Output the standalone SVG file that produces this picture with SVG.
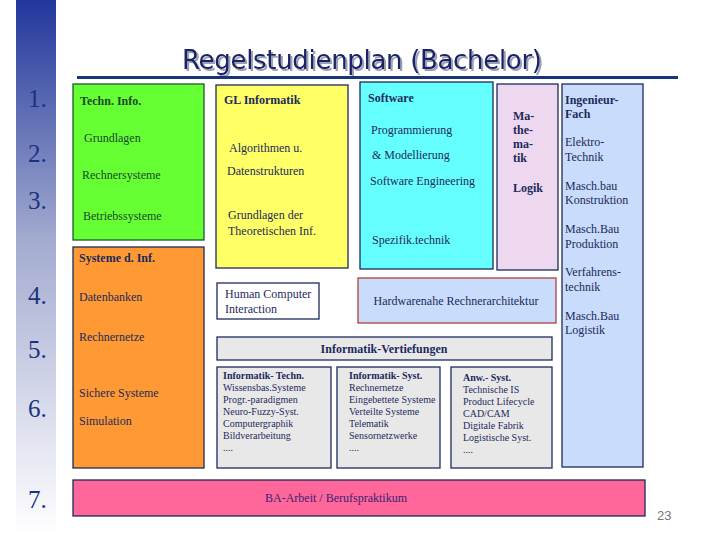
<svg xmlns="http://www.w3.org/2000/svg" width="720" height="540" viewBox="0 0 720 540">
<defs>
<linearGradient id="strip" x1="0" y1="0" x2="0" y2="1">
<stop offset="0" stop-color="#22379c"/>
<stop offset="0.45" stop-color="#a3abd0"/>
<stop offset="1" stop-color="#ffffff"/>
</linearGradient>
<filter id="shadow" x="-5%" y="-20%" width="110%" height="150%">
<feDropShadow dx="2" dy="2" stdDeviation="0.6" flood-color="#9aa0b8" flood-opacity="1"/>
</filter>
<style>
text{font-family:"Liberation Serif","Times New Roman",serif;font-size:12px;fill:#1c2a5c}
.b{font-weight:bold}
.num{font-size:25px;fill:#1a3380}
.g{fill:#1a4a2a}
.s{font-size:10px}
.box{stroke:#1c2a5c;stroke-width:1.3}
</style>
</defs>
<rect width="720" height="540" fill="#ffffff"/>
<rect x="16" y="0" width="40" height="534" fill="url(#strip)"/>
<g id="numbers">
<text class="num" x="28" y="107">1.</text>
<text class="num" x="28" y="162">2.</text>
<text class="num" x="28" y="209">3.</text>
<text class="num" x="28" y="304">4.</text>
<text class="num" x="28" y="358">5.</text>
<text class="num" x="28" y="417">6.</text>
<text class="num" x="28" y="508">7.</text>
</g>
<g id="title">
<text x="182" y="69" textLength="360" filter="url(#shadow)" style="font-family:'DejaVu Sans',sans-serif;font-size:26px;fill:#1a2466">Regelstudienplan (Bachelor)</text>
<rect x="77" y="76" width="601" height="3" fill="#1a3575"/>
</g>
<g id="techn">
<rect x="73" y="84" width="131" height="156" fill="#66ff33" stroke="#1a5a2a" stroke-width="1.3"/>
<text class="b g" x="80" y="105">Techn. Info.</text>
<text class="g" x="84" y="142">Grundlagen</text>
<text class="g" x="82" y="179">Rechnersysteme</text>
<text class="g" x="83" y="220">Betriebssysteme</text>
</g>
<g id="systeme">
<rect class="box" x="73" y="247" width="131" height="221" fill="#ff9933"/>
<text class="b" x="79" y="262">Systeme d. Inf.</text>
<text x="79" y="301">Datenbanken</text>
<text x="79" y="341">Rechnernetze</text>
<text x="79" y="397">Sichere Systeme</text>
<text x="79" y="425">Simulation</text>
</g>
<g id="gl">
<rect class="box" x="216" y="85" width="132" height="183" fill="#ffff66"/>
<text class="b" x="224" y="104">GL Informatik</text>
<text x="229" y="152">Algorithmen u.</text>
<text x="227" y="175">Datenstrukturen</text>
<text x="228" y="219">Grundlagen der</text>
<text x="228" y="235">Theoretischen Inf.</text>
</g>
<g id="software">
<rect class="box" x="360" y="82" width="133" height="187" fill="#66ffff"/>
<text class="b" x="368" y="102">Software</text>
<text x="371" y="134">Programmierung</text>
<text x="372" y="159">&amp; Modellierung</text>
<text x="370" y="185">Software Engineering</text>
<text x="372" y="244">Spezifik.technik</text>
</g>
<g id="mathe">
<rect class="box" x="497" y="84" width="61" height="186" fill="#eed8f0"/>
<text class="b" x="513" y="120">Ma-</text>
<text class="b" x="513" y="134">the-</text>
<text class="b" x="513" y="148">ma-</text>
<text class="b" x="513" y="162">tik</text>
<text class="b" x="513" y="192">Logik</text>
</g>
<g id="ingenieur">
<rect class="box" x="562" y="84" width="81" height="383" fill="#c9dcfb"/>
<text class="b" x="565" y="104">Ingenieur-</text>
<text class="b" x="565" y="118">Fach</text>
<text x="565" y="146">Elektro-</text>
<text x="565" y="161">Technik</text>
<text x="565" y="190">Masch.bau</text>
<text x="565" y="204">Konstruktion</text>
<text x="565" y="233">Masch.Bau</text>
<text x="565" y="248">Produktion</text>
<text x="565" y="276">Verfahrens-</text>
<text x="565" y="291">technik</text>
<text x="565" y="320">Masch.Bau</text>
<text x="565" y="334">Logistik</text>
</g>
<g id="hci">
<rect class="box" x="217" y="283" width="102" height="36" fill="#ffffff"/>
<text x="225" y="298">Human Computer</text>
<text x="225" y="313">Interaction</text>
</g>
<g id="hardware">
<rect x="358" y="278" width="198" height="45" fill="#c9dcfb" stroke="#b04040" stroke-width="1.3"/>
<text x="456" y="305" text-anchor="middle">Hardwarenahe Rechnerarchitektur</text>
</g>
<g id="vertiefungen">
<rect class="box" x="217" y="337" width="335" height="23" fill="#e8e8e8"/>
<text class="b" x="384" y="353" text-anchor="middle">Informatik-Vertiefungen</text>
</g>
<g id="vt-techn">
<rect class="box" x="217" y="367" width="114" height="101" fill="#e8e8e8"/>
<text class="b s" x="223" y="379">Informatik- Techn.</text>
<text class="s" x="223" y="391">Wissensbas.Systeme</text>
<text class="s" x="223" y="403">Progr.-paradigmen</text>
<text class="s" x="223" y="415">Neuro-Fuzzy-Syst.</text>
<text class="s" x="223" y="427">Computergraphik</text>
<text class="s" x="223" y="439">Bildverarbeitung</text>
<text class="s" x="223" y="451">....</text>
</g>
<g id="vt-syst">
<rect class="box" x="337" y="367" width="103" height="101" fill="#e8e8e8"/>
<text class="b s" x="349" y="379">Informatik- Syst.</text>
<text class="s" x="349" y="391">Rechnernetze</text>
<text class="s" x="349" y="403">Eingebettete Systeme</text>
<text class="s" x="349" y="415">Verteilte Systeme</text>
<text class="s" x="349" y="427">Telematik</text>
<text class="s" x="349" y="439">Sensornetzwerke</text>
<text class="s" x="349" y="451">....</text>
</g>
<g id="vt-anw">
<rect class="box" x="451" y="367" width="101" height="101" fill="#e8e8e8"/>
<text class="b s" x="463" y="381">Anw.- Syst.</text>
<text class="s" x="463" y="393">Technische IS</text>
<text class="s" x="463" y="405">Product Lifecycle</text>
<text class="s" x="463" y="417">CAD/CAM</text>
<text class="s" x="463" y="429">Digitale Fabrik</text>
<text class="s" x="463" y="441">Logistische Syst.</text>
<text class="s" x="463" y="453">....</text>
</g>
<g id="ba">
<rect class="box" x="73" y="480" width="572" height="36" fill="#ff6699"/>
<text x="336" y="502" text-anchor="middle" style="fill:#3a2470">BA-Arbeit / Berufspraktikum</text>
</g>
<text x="657" y="520" style="font-family:'Liberation Sans',sans-serif;font-size:13px;fill:#777777">23</text>
<g id="connectors"/>
</svg>
